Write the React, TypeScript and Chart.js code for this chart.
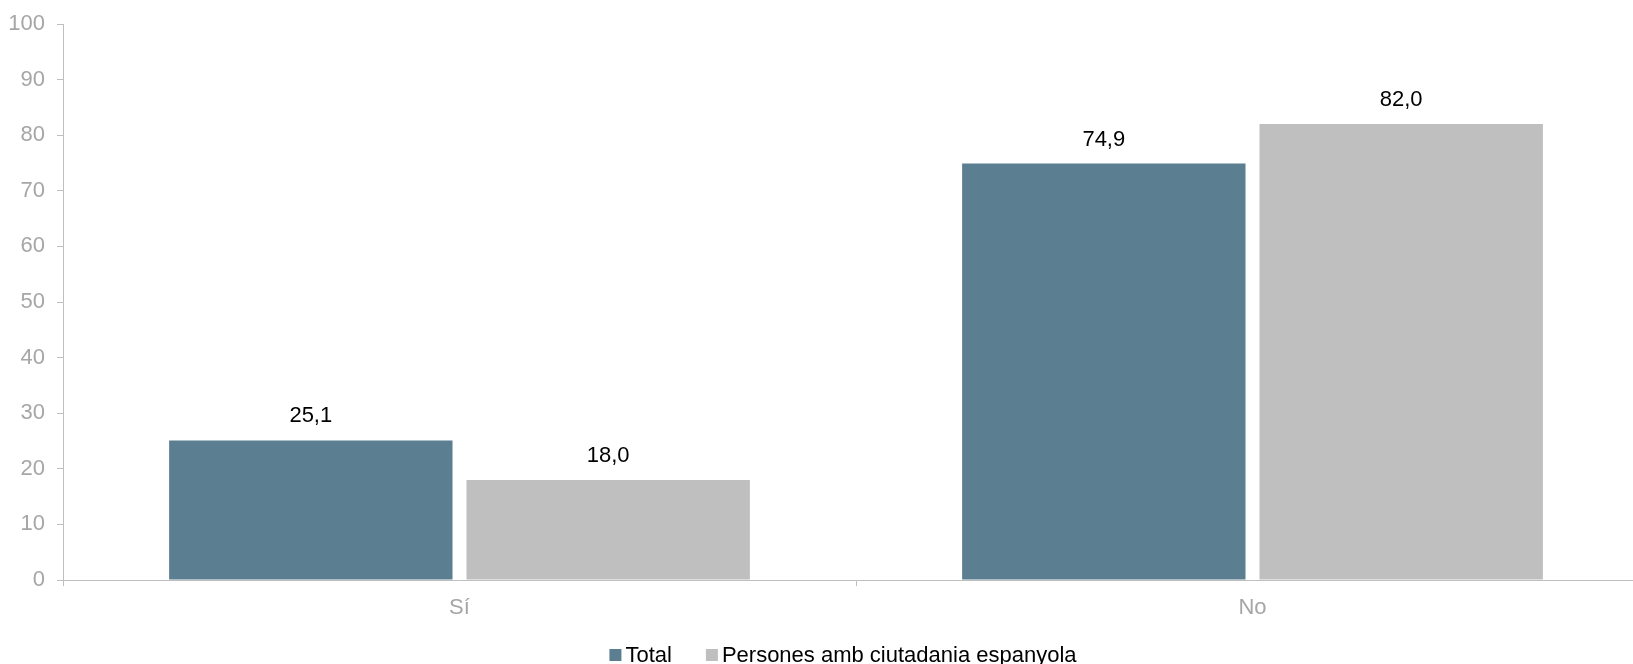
import React, { useEffect, useRef } from "react";
import { Chart, registerables } from "chart.js";

Chart.register(...registerables);

const categories = ["Sí", "No"];
const totalValues = [25.1, 74.9];
const spanishValues = [18.0, 82.0];
const seriesLabels = ["Total", "Persones amb ciutadania espanyola"];
const yTicks = [0, 10, 20, 30, 40, 50, 60, 70, 80, 90, 100];

const FONT = "'Liberation Sans', Arial, sans-serif";
const FONT_SIZE = 22;
const COLORS = ["#5B7E91", "#BFBFBF"];

const dataLabelPlugin = {
  id: "dataLabels",
  afterDatasetsDraw(chart: any) {
    const ctx = chart.ctx;
    ctx.save();
    ctx.font = `${FONT_SIZE}px ${FONT}`;
    ctx.fillStyle = "#000000";
    ctx.textAlign = "center";
    ctx.textBaseline = "alphabetic";
    chart.data.datasets.forEach((ds: any, di: number) => {
      const meta = chart.getDatasetMeta(di);
      meta.data.forEach((el: any, i: number) => {
        const v = ds.data[i];
        ctx.fillText(v.toFixed(1).replace(".", ","), el.x, el.y - 18);
      });
    });
    ctx.restore();
  },
};

const legendPlugin = {
  id: "customLegend",
  afterDraw(chart: any) {
    const ctx = chart.ctx;
    ctx.save();
    ctx.font = `${FONT_SIZE}px ${FONT}`;
    const box = 12;
    const gap = 4;
    const spacing = 34;
    const items = chart.data.datasets.map((ds: any) => ({
      label: ds.label,
      color: ds.backgroundColor,
      w: ctx.measureText(ds.label).width,
    }));
    let total = 0;
    items.forEach((it: any, i: number) => {
      total += box + gap + it.w + (i < items.length - 1 ? spacing : 0);
    });
    const center = 835;
    const baseline = 654;
    let x = center - total / 2;
    ctx.textBaseline = "alphabetic";
    ctx.textAlign = "left";
    items.forEach((it: any) => {
      ctx.fillStyle = it.color;
      ctx.fillRect(x, baseline - 13, box, box);
      x += box + gap;
      ctx.fillStyle = "#000000";
      ctx.fillText(it.label, x, baseline);
      x += it.w + spacing;
    });
    ctx.restore();
  },
};

export default function App() {
  const ref = useRef<HTMLCanvasElement | null>(null);

  useEffect(() => {
    if (!ref.current) return;
    const chart = new Chart(ref.current, {
      type: "bar",
      data: {
        labels: categories,
        datasets: [
          {
            label: seriesLabels[0],
            data: totalValues,
            backgroundColor: COLORS[0],
            categoryPercentage: 0.75,
            barPercentage: 0.953,
          },
          {
            label: seriesLabels[1],
            data: spanishValues,
            backgroundColor: COLORS[1],
            categoryPercentage: 0.75,
            barPercentage: 0.953,
          },
        ],
      },
      options: {
        responsive: false,
        animation: false,
        layout: { padding: { top: 16, right: 9, bottom: 34, left: 0 } },
        plugins: {
          legend: { display: false },
          tooltip: { enabled: false },
        },
        scales: {
          x: {
            grid: {
              offset: true,
              drawOnChartArea: false,
              drawTicks: true,
              tickLength: 6,
              color: "#BFBFBF",
            },
            border: { display: true, color: "#BFBFBF", width: 1 },
            ticks: {
              color: "#A6A6A6",
              font: { family: FONT, size: FONT_SIZE },
              padding: 9,
            },
            afterFit: (scale: any) => {
              scale.height = 50;
              scale.paddingLeft = 0;
              scale.paddingRight = 0;
            },
          },
          y: {
            min: 0,
            max: 100,
            afterBuildTicks: (scale: any) => {
              scale.ticks = yTicks.map((v) => ({ value: v }));
            },
            grid: {
              drawOnChartArea: false,
              drawTicks: true,
              tickLength: 6,
              color: "#BFBFBF",
            },
            border: { display: true, color: "#BFBFBF", width: 1 },
            ticks: {
              color: "#A6A6A6",
              font: { family: FONT, size: FONT_SIZE },
              padding: 12,
            },
            afterFit: (scale: any) => {
              scale.width = 55;
              scale.paddingTop = 0;
              scale.paddingBottom = 0;
            },
          },
        },
      },
      plugins: [dataLabelPlugin, legendPlugin],
    });
    return () => chart.destroy();
  }, []);

  return (
    <div
      style={{
        position: "fixed",
        left: 8,
        top: 8,
        width: 1625,
        height: 656,
        overflow: "hidden",
      }}
    >
      <canvas ref={ref} width={1650} height={656} style={{ display: "block" }} />
    </div>
  );
}
